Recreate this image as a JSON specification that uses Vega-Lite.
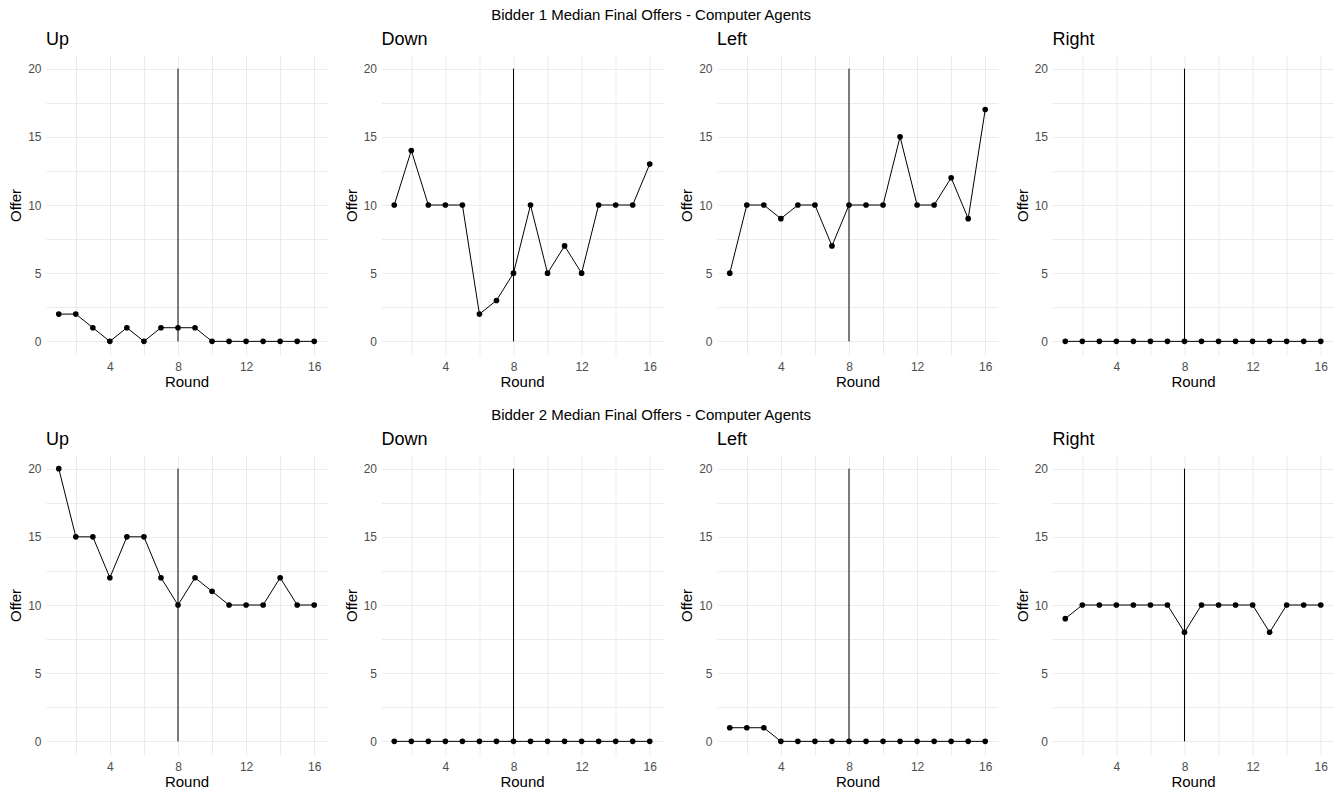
{
  "$schema": "https://vega.github.io/schema/vega-lite/v6.json",
  "background": "white",
  "padding": {"left": 8, "top": 8, "right": 5, "bottom": 5},
  "config": {
    "font": "Liberation Sans",
    "view": {"stroke": null},
    "axis": {
      "grid": true, "gridColor": "#EBEBEB", "gridWidth": 1,
      "domain": false, "ticks": false,
      "labelFont": "Liberation Sans", "labelFontSize": 12, "labelColor": "#4D4D4D",
      "titleFont": "Liberation Sans", "titleFontSize": 15, "titleFontWeight": "normal", "titleColor": "black"
    },
    "header": {
      "title": null, "labelFont": "Liberation Sans", "labelFontSize": 18, "labelColor": "black",
      "labelAnchor": "start", "labelAlign": "left", "labelPadding": 6
    },
    "title": {"font": "Liberation Sans", "fontSize": 15, "fontWeight": "normal", "color": "black", "anchor": "middle"}
  },
  "data": {"values": [
    {"bidder": "Bidder 1", "dir": "Up", "Round": 1, "Offer": 2},
    {"bidder": "Bidder 1", "dir": "Up", "Round": 2, "Offer": 2},
    {"bidder": "Bidder 1", "dir": "Up", "Round": 3, "Offer": 1},
    {"bidder": "Bidder 1", "dir": "Up", "Round": 4, "Offer": 0},
    {"bidder": "Bidder 1", "dir": "Up", "Round": 5, "Offer": 1},
    {"bidder": "Bidder 1", "dir": "Up", "Round": 6, "Offer": 0},
    {"bidder": "Bidder 1", "dir": "Up", "Round": 7, "Offer": 1},
    {"bidder": "Bidder 1", "dir": "Up", "Round": 8, "Offer": 1},
    {"bidder": "Bidder 1", "dir": "Up", "Round": 9, "Offer": 1},
    {"bidder": "Bidder 1", "dir": "Up", "Round": 10, "Offer": 0},
    {"bidder": "Bidder 1", "dir": "Up", "Round": 11, "Offer": 0},
    {"bidder": "Bidder 1", "dir": "Up", "Round": 12, "Offer": 0},
    {"bidder": "Bidder 1", "dir": "Up", "Round": 13, "Offer": 0},
    {"bidder": "Bidder 1", "dir": "Up", "Round": 14, "Offer": 0},
    {"bidder": "Bidder 1", "dir": "Up", "Round": 15, "Offer": 0},
    {"bidder": "Bidder 1", "dir": "Up", "Round": 16, "Offer": 0},
    {"bidder": "Bidder 1", "dir": "Down", "Round": 1, "Offer": 10},
    {"bidder": "Bidder 1", "dir": "Down", "Round": 2, "Offer": 14},
    {"bidder": "Bidder 1", "dir": "Down", "Round": 3, "Offer": 10},
    {"bidder": "Bidder 1", "dir": "Down", "Round": 4, "Offer": 10},
    {"bidder": "Bidder 1", "dir": "Down", "Round": 5, "Offer": 10},
    {"bidder": "Bidder 1", "dir": "Down", "Round": 6, "Offer": 2},
    {"bidder": "Bidder 1", "dir": "Down", "Round": 7, "Offer": 3},
    {"bidder": "Bidder 1", "dir": "Down", "Round": 8, "Offer": 5},
    {"bidder": "Bidder 1", "dir": "Down", "Round": 9, "Offer": 10},
    {"bidder": "Bidder 1", "dir": "Down", "Round": 10, "Offer": 5},
    {"bidder": "Bidder 1", "dir": "Down", "Round": 11, "Offer": 7},
    {"bidder": "Bidder 1", "dir": "Down", "Round": 12, "Offer": 5},
    {"bidder": "Bidder 1", "dir": "Down", "Round": 13, "Offer": 10},
    {"bidder": "Bidder 1", "dir": "Down", "Round": 14, "Offer": 10},
    {"bidder": "Bidder 1", "dir": "Down", "Round": 15, "Offer": 10},
    {"bidder": "Bidder 1", "dir": "Down", "Round": 16, "Offer": 13},
    {"bidder": "Bidder 1", "dir": "Left", "Round": 1, "Offer": 5},
    {"bidder": "Bidder 1", "dir": "Left", "Round": 2, "Offer": 10},
    {"bidder": "Bidder 1", "dir": "Left", "Round": 3, "Offer": 10},
    {"bidder": "Bidder 1", "dir": "Left", "Round": 4, "Offer": 9},
    {"bidder": "Bidder 1", "dir": "Left", "Round": 5, "Offer": 10},
    {"bidder": "Bidder 1", "dir": "Left", "Round": 6, "Offer": 10},
    {"bidder": "Bidder 1", "dir": "Left", "Round": 7, "Offer": 7},
    {"bidder": "Bidder 1", "dir": "Left", "Round": 8, "Offer": 10},
    {"bidder": "Bidder 1", "dir": "Left", "Round": 9, "Offer": 10},
    {"bidder": "Bidder 1", "dir": "Left", "Round": 10, "Offer": 10},
    {"bidder": "Bidder 1", "dir": "Left", "Round": 11, "Offer": 15},
    {"bidder": "Bidder 1", "dir": "Left", "Round": 12, "Offer": 10},
    {"bidder": "Bidder 1", "dir": "Left", "Round": 13, "Offer": 10},
    {"bidder": "Bidder 1", "dir": "Left", "Round": 14, "Offer": 12},
    {"bidder": "Bidder 1", "dir": "Left", "Round": 15, "Offer": 9},
    {"bidder": "Bidder 1", "dir": "Left", "Round": 16, "Offer": 17},
    {"bidder": "Bidder 1", "dir": "Right", "Round": 1, "Offer": 0},
    {"bidder": "Bidder 1", "dir": "Right", "Round": 2, "Offer": 0},
    {"bidder": "Bidder 1", "dir": "Right", "Round": 3, "Offer": 0},
    {"bidder": "Bidder 1", "dir": "Right", "Round": 4, "Offer": 0},
    {"bidder": "Bidder 1", "dir": "Right", "Round": 5, "Offer": 0},
    {"bidder": "Bidder 1", "dir": "Right", "Round": 6, "Offer": 0},
    {"bidder": "Bidder 1", "dir": "Right", "Round": 7, "Offer": 0},
    {"bidder": "Bidder 1", "dir": "Right", "Round": 8, "Offer": 0},
    {"bidder": "Bidder 1", "dir": "Right", "Round": 9, "Offer": 0},
    {"bidder": "Bidder 1", "dir": "Right", "Round": 10, "Offer": 0},
    {"bidder": "Bidder 1", "dir": "Right", "Round": 11, "Offer": 0},
    {"bidder": "Bidder 1", "dir": "Right", "Round": 12, "Offer": 0},
    {"bidder": "Bidder 1", "dir": "Right", "Round": 13, "Offer": 0},
    {"bidder": "Bidder 1", "dir": "Right", "Round": 14, "Offer": 0},
    {"bidder": "Bidder 1", "dir": "Right", "Round": 15, "Offer": 0},
    {"bidder": "Bidder 1", "dir": "Right", "Round": 16, "Offer": 0},
    {"bidder": "Bidder 2", "dir": "Up", "Round": 1, "Offer": 20},
    {"bidder": "Bidder 2", "dir": "Up", "Round": 2, "Offer": 15},
    {"bidder": "Bidder 2", "dir": "Up", "Round": 3, "Offer": 15},
    {"bidder": "Bidder 2", "dir": "Up", "Round": 4, "Offer": 12},
    {"bidder": "Bidder 2", "dir": "Up", "Round": 5, "Offer": 15},
    {"bidder": "Bidder 2", "dir": "Up", "Round": 6, "Offer": 15},
    {"bidder": "Bidder 2", "dir": "Up", "Round": 7, "Offer": 12},
    {"bidder": "Bidder 2", "dir": "Up", "Round": 8, "Offer": 10},
    {"bidder": "Bidder 2", "dir": "Up", "Round": 9, "Offer": 12},
    {"bidder": "Bidder 2", "dir": "Up", "Round": 10, "Offer": 11},
    {"bidder": "Bidder 2", "dir": "Up", "Round": 11, "Offer": 10},
    {"bidder": "Bidder 2", "dir": "Up", "Round": 12, "Offer": 10},
    {"bidder": "Bidder 2", "dir": "Up", "Round": 13, "Offer": 10},
    {"bidder": "Bidder 2", "dir": "Up", "Round": 14, "Offer": 12},
    {"bidder": "Bidder 2", "dir": "Up", "Round": 15, "Offer": 10},
    {"bidder": "Bidder 2", "dir": "Up", "Round": 16, "Offer": 10},
    {"bidder": "Bidder 2", "dir": "Down", "Round": 1, "Offer": 0},
    {"bidder": "Bidder 2", "dir": "Down", "Round": 2, "Offer": 0},
    {"bidder": "Bidder 2", "dir": "Down", "Round": 3, "Offer": 0},
    {"bidder": "Bidder 2", "dir": "Down", "Round": 4, "Offer": 0},
    {"bidder": "Bidder 2", "dir": "Down", "Round": 5, "Offer": 0},
    {"bidder": "Bidder 2", "dir": "Down", "Round": 6, "Offer": 0},
    {"bidder": "Bidder 2", "dir": "Down", "Round": 7, "Offer": 0},
    {"bidder": "Bidder 2", "dir": "Down", "Round": 8, "Offer": 0},
    {"bidder": "Bidder 2", "dir": "Down", "Round": 9, "Offer": 0},
    {"bidder": "Bidder 2", "dir": "Down", "Round": 10, "Offer": 0},
    {"bidder": "Bidder 2", "dir": "Down", "Round": 11, "Offer": 0},
    {"bidder": "Bidder 2", "dir": "Down", "Round": 12, "Offer": 0},
    {"bidder": "Bidder 2", "dir": "Down", "Round": 13, "Offer": 0},
    {"bidder": "Bidder 2", "dir": "Down", "Round": 14, "Offer": 0},
    {"bidder": "Bidder 2", "dir": "Down", "Round": 15, "Offer": 0},
    {"bidder": "Bidder 2", "dir": "Down", "Round": 16, "Offer": 0},
    {"bidder": "Bidder 2", "dir": "Left", "Round": 1, "Offer": 1},
    {"bidder": "Bidder 2", "dir": "Left", "Round": 2, "Offer": 1},
    {"bidder": "Bidder 2", "dir": "Left", "Round": 3, "Offer": 1},
    {"bidder": "Bidder 2", "dir": "Left", "Round": 4, "Offer": 0},
    {"bidder": "Bidder 2", "dir": "Left", "Round": 5, "Offer": 0},
    {"bidder": "Bidder 2", "dir": "Left", "Round": 6, "Offer": 0},
    {"bidder": "Bidder 2", "dir": "Left", "Round": 7, "Offer": 0},
    {"bidder": "Bidder 2", "dir": "Left", "Round": 8, "Offer": 0},
    {"bidder": "Bidder 2", "dir": "Left", "Round": 9, "Offer": 0},
    {"bidder": "Bidder 2", "dir": "Left", "Round": 10, "Offer": 0},
    {"bidder": "Bidder 2", "dir": "Left", "Round": 11, "Offer": 0},
    {"bidder": "Bidder 2", "dir": "Left", "Round": 12, "Offer": 0},
    {"bidder": "Bidder 2", "dir": "Left", "Round": 13, "Offer": 0},
    {"bidder": "Bidder 2", "dir": "Left", "Round": 14, "Offer": 0},
    {"bidder": "Bidder 2", "dir": "Left", "Round": 15, "Offer": 0},
    {"bidder": "Bidder 2", "dir": "Left", "Round": 16, "Offer": 0},
    {"bidder": "Bidder 2", "dir": "Right", "Round": 1, "Offer": 9},
    {"bidder": "Bidder 2", "dir": "Right", "Round": 2, "Offer": 10},
    {"bidder": "Bidder 2", "dir": "Right", "Round": 3, "Offer": 10},
    {"bidder": "Bidder 2", "dir": "Right", "Round": 4, "Offer": 10},
    {"bidder": "Bidder 2", "dir": "Right", "Round": 5, "Offer": 10},
    {"bidder": "Bidder 2", "dir": "Right", "Round": 6, "Offer": 10},
    {"bidder": "Bidder 2", "dir": "Right", "Round": 7, "Offer": 10},
    {"bidder": "Bidder 2", "dir": "Right", "Round": 8, "Offer": 8},
    {"bidder": "Bidder 2", "dir": "Right", "Round": 9, "Offer": 10},
    {"bidder": "Bidder 2", "dir": "Right", "Round": 10, "Offer": 10},
    {"bidder": "Bidder 2", "dir": "Right", "Round": 11, "Offer": 10},
    {"bidder": "Bidder 2", "dir": "Right", "Round": 12, "Offer": 10},
    {"bidder": "Bidder 2", "dir": "Right", "Round": 13, "Offer": 8},
    {"bidder": "Bidder 2", "dir": "Right", "Round": 14, "Offer": 10},
    {"bidder": "Bidder 2", "dir": "Right", "Round": 15, "Offer": 10},
    {"bidder": "Bidder 2", "dir": "Right", "Round": 16, "Offer": 10}
  ]},
  "bounds": "full",
  "spacing": 19,
  "vconcat": [
    {
      "title": {"text": "Bidder 1 Median Final Offers - Computer Agents", "dx": -20, "dy": -4},
      "transform": [{"filter": "datum.bidder == 'Bidder 1'"}],
      "bounds": "flush",
      "spacing": 54.5,
      "facet": {"column": {"field": "dir", "type": "nominal", "sort": ["Up", "Down", "Left", "Right"]}},
      "resolve": {"axis": {"x": "independent", "y": "independent"}},
      "spec": {
        "width": 281, "height": 300,
        "encoding": {
          "x": {"field": "Round", "type": "quantitative", "scale": {"domain": [0.25, 16.75], "nice": false, "zero": false},
                "axis": {"values": [2, 4, 6, 8, 10, 12, 14, 16], "labelExpr": "datum.value % 4 == 0 ? datum.label : ''", "labelPadding": 6, "titlePadding": 2}},
          "y": {"field": "Offer", "type": "quantitative", "scale": {"domain": [-1, 21], "nice": false, "zero": false},
                "axis": {"values": [0, 2.5, 5, 7.5, 10, 12.5, 15, 17.5, 20], "labelExpr": "datum.value % 5 == 0 ? datum.label : ''", "labelPadding": 5, "titlePadding": 4}}
        },
        "layer": [
          {"mark": {"type": "line", "color": "black", "strokeWidth": 1}},
          {"mark": {"type": "point", "filled": true, "color": "black", "opacity": 1, "size": 32}},
          {"transform": [{"filter": "datum.Round == 8"}],
           "mark": {"type": "rule", "color": "black", "strokeWidth": 1},
           "encoding": {"x": {"datum": 8, "type": "quantitative"}, "y": {"datum": 0, "type": "quantitative"}, "y2": {"datum": 20}}}
        ]
      }
    },
    {
      "title": {"text": "Bidder 2 Median Final Offers - Computer Agents", "dx": -20, "dy": -4},
      "transform": [{"filter": "datum.bidder == 'Bidder 2'"}],
      "bounds": "flush",
      "spacing": 54.5,
      "facet": {"column": {"field": "dir", "type": "nominal", "sort": ["Up", "Down", "Left", "Right"]}},
      "resolve": {"axis": {"x": "independent", "y": "independent"}},
      "spec": {
        "width": 281, "height": 300,
        "encoding": {
          "x": {"field": "Round", "type": "quantitative", "scale": {"domain": [0.25, 16.75], "nice": false, "zero": false},
                "axis": {"values": [2, 4, 6, 8, 10, 12, 14, 16], "labelExpr": "datum.value % 4 == 0 ? datum.label : ''", "labelPadding": 6, "titlePadding": 2}},
          "y": {"field": "Offer", "type": "quantitative", "scale": {"domain": [-1, 21], "nice": false, "zero": false},
                "axis": {"values": [0, 2.5, 5, 7.5, 10, 12.5, 15, 17.5, 20], "labelExpr": "datum.value % 5 == 0 ? datum.label : ''", "labelPadding": 5, "titlePadding": 4}}
        },
        "layer": [
          {"mark": {"type": "line", "color": "black", "strokeWidth": 1}},
          {"mark": {"type": "point", "filled": true, "color": "black", "opacity": 1, "size": 32}},
          {"transform": [{"filter": "datum.Round == 8"}],
           "mark": {"type": "rule", "color": "black", "strokeWidth": 1},
           "encoding": {"x": {"datum": 8, "type": "quantitative"}, "y": {"datum": 0, "type": "quantitative"}, "y2": {"datum": 20}}}
        ]
      }
    }
  ]
}
